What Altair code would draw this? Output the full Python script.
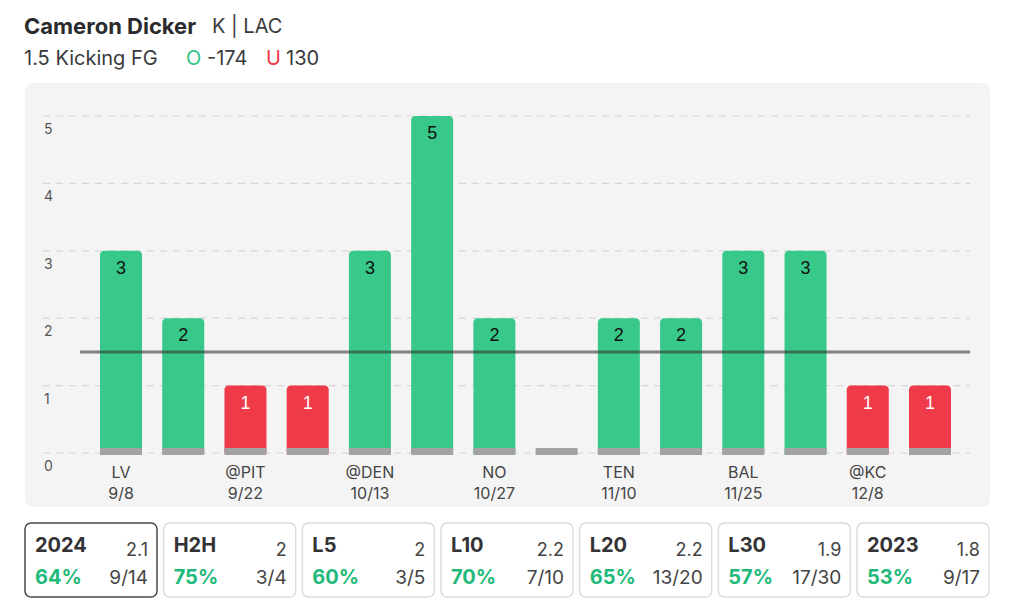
import altair as alt
import pandas as pd

# ---- data ----
teams = ["LV", "", "@PIT", "", "@DEN", "", "NO", "", "TEN", "", "BAL", "", "@KC", ""]
dates = ["9/8", "", "9/22", "", "10/13", "", "10/27", "", "11/10", "", "11/25", "", "12/8", ""]
values = [3, 2, 1, 1, 3, 5, 2, 0, 2, 2, 3, 3, 1, 1]
line_value = 1.5
y_ticks = [0, 1, 2, 3, 4, 5]

card_labels = ["2024", "H2H", "L5", "L10", "L20", "L30", "2023"]
card_avgs = ["2.1", "2", "2", "2.2", "2.2", "1.9", "1.8"]
card_pcts = ["64%", "75%", "60%", "70%", "65%", "57%", "53%"]
card_fracs = ["9/14", "3/4", "3/5", "7/10", "13/20", "17/30", "9/17"]
card_selected = [True, False, False, False, False, False, False]

header_parts = [
    {"t": "Cameron Dicker", "x": 16, "y": 19, "c": "#2b2b2e", "s": 22, "b": True},
    {"t": "K | LAC", "x": 204, "y": 19, "c": "#3a3a3d", "s": 20, "b": False},
    {"t": "1.5 Kicking FG", "x": 16, "y": 51, "c": "#3a3a3d", "s": 20, "b": False},
    {"t": "O", "x": 178, "y": 51, "c": "#2fc488", "s": 20, "b": False},
    {"t": "-174", "x": 199, "y": 51, "c": "#3a3a3d", "s": 20, "b": False},
    {"t": "U", "x": 258, "y": 51, "c": "#ef3a4a", "s": 20, "b": False},
    {"t": "130", "x": 278, "y": 51, "c": "#3a3a3d", "s": 20, "b": False},
]

FONT = "Inter"
GREEN = "#38c98a"
RED = "#ef3a4a"

games = pd.DataFrame({
    "idx": list(range(len(values))),
    "team": teams,
    "date": dates,
    "value": values,
})
games["over"] = games["value"] > line_value
ticks = pd.DataFrame({"tick": y_ticks})
cards = pd.DataFrame({
    "i": list(range(len(card_labels))),
    "label": card_labels,
    "avg": card_avgs,
    "pct": card_pcts,
    "frac": card_fracs,
    "sel": card_selected,
})
header = pd.DataFrame(header_parts)

# ---- scales ----
xs = alt.Scale(domain=[0, len(values) - 1], range=[113, 922], padding=0, nice=False, zero=False)
ys = alt.Scale(domain=[0, 5], range=[445, 108], padding=0, nice=False)
X = alt.X("idx:Q", scale=xs, axis=None)

panel = alt.Chart(pd.DataFrame({"a": [0]})).mark_rect(
    fill="#f4f4f4", cornerRadius=8
).encode(x=alt.value(17), x2=alt.value(982), y=alt.value(75), y2=alt.value(499))

grid = alt.Chart(ticks).mark_rule(
    stroke="#d6d6d6", strokeDash=[7, 6], strokeWidth=1.2
).encode(y=alt.Y("tick:Q", scale=ys, axis=None), x=alt.value(35), x2=alt.value(962))

ylabels = alt.Chart(ticks).mark_text(
    align="left", baseline="middle", dy=14, fontSize=14, font=FONT, color="#555"
).encode(y=alt.Y("tick:Q", scale=ys, axis=None), x=alt.value(36), text="tick:Q")

bars = alt.Chart(games).transform_filter("datum.value > 0").mark_bar(
    width=42, cornerRadiusTopLeft=4, cornerRadiusTopRight=4
).encode(
    x=X,
    y=alt.Y("value:Q", scale=ys, axis=None),
    y2=alt.datum(0),
    color=alt.condition("datum.over", alt.value(GREEN), alt.value(RED)),
)

base_strip = alt.Chart(games).mark_bar(width=42, color="#a2a2a2").encode(
    x=X, y=alt.value(440), y2=alt.value(447)
)

thresh = alt.Chart(pd.DataFrame({"v": [line_value]})).mark_rule(
    stroke="#333", strokeWidth=3, opacity=0.6
).encode(y=alt.Y("v:Q", scale=ys, axis=None), x=alt.value(72), x2=alt.value(962))

vlabels = alt.Chart(games).transform_filter("datum.value > 0").mark_text(
    baseline="middle", dy=18, fontSize=18, font="Liberation Sans"
).encode(
    x=X,
    y=alt.Y("value:Q", scale=ys, axis=None),
    text="value:Q",
    color=alt.condition("datum.over", alt.value("#111111"), alt.value("#ffffff")),
)

team_labels = alt.Chart(games).mark_text(
    baseline="middle", fontSize=16, font=FONT, color="#444"
).encode(x=X, y=alt.value(465), text="team:N")

date_labels = alt.Chart(games).mark_text(
    baseline="middle", fontSize=16, font=FONT, color="#444"
).encode(x=X, y=alt.value(486), text="date:N")

bar_layer = alt.layer(
    panel, grid, ylabels, bars, base_strip, thresh, vlabels, team_labels, date_labels
)

# ---- cards ----
cx = alt.Scale(domain=[0, len(card_labels) - 1], range=[17, 849], padding=0, nice=False, zero=False)
cbase = alt.Chart(cards).transform_calculate(i2="datum.i + 0.952")

card_rects = cbase.mark_rect(cornerRadius=6, fill="white", strokeWidth=1.5).encode(
    x=alt.X("i:Q", scale=cx, axis=None),
    x2="i2:Q",
    y=alt.value(515),
    y2=alt.value(589),
    stroke=alt.condition("datum.sel", alt.value("#4a4a4e"), alt.value("#dcdcdc")),
)
card_lab = cbase.mark_text(
    align="left", baseline="middle", dx=10, fontSize=20, fontWeight="bold", font=FONT, color="#333336"
).encode(x=alt.X("i:Q", scale=cx, axis=None), y=alt.value(538), text="label:N")
card_avg = cbase.mark_text(
    align="right", baseline="middle", dx=-9, fontSize=18, font=FONT, color="#444"
).encode(x=alt.X("i2:Q", scale=cx, axis=None), y=alt.value(543), text="avg:N")
card_pct = cbase.mark_text(
    align="left", baseline="middle", dx=10, fontSize=20, fontWeight="bold", font=FONT, color="#1fba7a"
).encode(x=alt.X("i:Q", scale=cx, axis=None), y=alt.value(570), text="pct:N")
card_frac = cbase.mark_text(
    align="right", baseline="middle", dx=-9, fontSize=19, font=FONT, color="#444"
).encode(x=alt.X("i2:Q", scale=cx, axis=None), y=alt.value(570), text="frac:N")

card_layer = alt.layer(card_rects, card_lab, card_avg, card_pct, card_frac)

def head_layer(bold):
    return alt.Chart(header).transform_filter(
        "datum.b" if bold else "!datum.b"
    ).mark_text(
        align="left", baseline="middle", font=FONT, fontWeight="bold" if bold else "normal"
    ).encode(
        x=alt.X("x:Q", scale=None, axis=None),
        y=alt.Y("y:Q", scale=None, axis=None),
        text="t:N",
        color=alt.Color("c:N", scale=None),
        size=alt.Size("s:Q", scale=None),
    )

head = alt.layer(head_layer(True), head_layer(False))

chart = alt.layer(bar_layer, card_layer, head).resolve_scale(
    x="independent", y="independent", size="independent"
).properties(
    width=1008, height=594, autosize=alt.AutoSizeParams(type="none"), padding=0, background="white"
).configure_view(stroke=None)

chart.save("out.html", embed_options={"renderer": "svg", "actions": False})
